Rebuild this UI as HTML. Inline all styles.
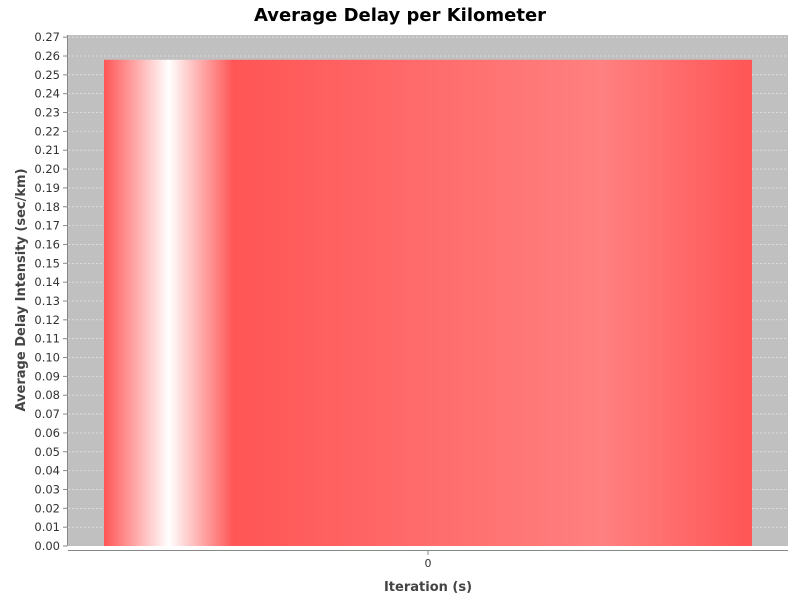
<!DOCTYPE html>
<html><head><meta charset="utf-8"><style>
body{margin:0;background:#fff;font-family:"DejaVu Sans","Liberation Sans",sans-serif;}
</style></head><body>
<svg width="800" height="600" xmlns="http://www.w3.org/2000/svg">
<defs>
<linearGradient id="g" x1="0" x2="1" y1="0" y2="0">
<stop offset="0" stop-color="#ff5555"/>
<stop offset="0.1" stop-color="#ffffff"/>
<stop offset="0.2" stop-color="#ff5555"/>
<stop offset="0.77" stop-color="#ff8080"/>
<stop offset="1" stop-color="#ff5555"/>
</linearGradient>
</defs>
<text x="400" y="21" text-anchor="middle" font-size="18" font-weight="bold" fill="#000">Average Delay per Kilometer</text>
<rect x="68" y="35" width="720" height="511" fill="#c0c0c0"/>
<g id="grid"></g>
<g id="bars"></g>
<line x1="67.5" y1="35" x2="67.5" y2="546" stroke="#888"/>
<line x1="68" y1="550.5" x2="788" y2="550.5" stroke="#888"/>
<g id="yticks" font-size="11.5" fill="#333"></g>
<g id="xticks" font-size="11" fill="#333"></g>
<text x="428" y="591" text-anchor="middle" font-size="13" font-weight="bold" fill="#444">Iteration (s)</text>
<text transform="translate(25,290) rotate(-90)" text-anchor="middle" font-size="13" font-weight="bold" fill="#444">Average Delay Intensity (sec/km)</text>
</svg>
<script>
const categories=["0"];
const values=[0.258];
const yTicks=[0,0.01,0.02,0.03,0.04,0.05,0.06,0.07,0.08,0.09,0.10,0.11,0.12,0.13,0.14,0.15,0.16,0.17,0.18,0.19,0.20,0.21,0.22,0.23,0.24,0.25,0.26,0.27];
const NS="http://www.w3.org/2000/svg";
const y0=546,pxPer=490/0.26;
function y(v){return y0-v*pxPer;}
const L=68,R=788,W=R-L;
function xBand(i){const bw=W/categories.length;return L+i*bw;}
const grid=document.getElementById('grid'),yt=document.getElementById('yticks');
yTicks.forEach(t=>{
 const yy=y(t);
 if(t>0){const l=document.createElementNS(NS,'line');
 l.setAttribute('x1',L);l.setAttribute('x2',R);l.setAttribute('y1',yy);l.setAttribute('y2',yy);
 l.setAttribute('stroke','#eeeeee');l.setAttribute('stroke-dasharray','2,2');l.setAttribute('stroke-width','0.6');
 
 
 grid.appendChild(l);}
 const tk=document.createElementNS(NS,'line');
 tk.setAttribute('x1',63);tk.setAttribute('x2',67);tk.setAttribute('y1',yy);tk.setAttribute('y2',yy);tk.setAttribute('stroke','#888');
 
 
 yt.appendChild(tk);
 const tx=document.createElementNS(NS,'text');
 tx.setAttribute('x',60);tx.setAttribute('y',yy+4);tx.setAttribute('text-anchor','end');tx.textContent=t.toFixed(2);
 
 
 yt.appendChild(tx);
});
const bars=document.getElementById('bars'),xt=document.getElementById('xticks');
categories.forEach((c,i)=>{
 const bw=W/categories.length,x0=xBand(i)+bw*0.05,w=bw*0.9;
 const r=document.createElementNS(NS,'rect');
 r.setAttribute('x',x0);r.setAttribute('width',w);r.setAttribute('y',y(values[i]));r.setAttribute('height',y0-y(values[i]));
 r.setAttribute('fill','url(#g)');
 
 
 bars.appendChild(r);
 const cx=xBand(i)+bw/2;
 const tk=document.createElementNS(NS,'line');
 tk.setAttribute('x1',cx);tk.setAttribute('x2',cx);tk.setAttribute('y1',551);tk.setAttribute('y2',555);tk.setAttribute('stroke','#888');
 
 
 xt.appendChild(tk);
 const tx=document.createElementNS(NS,'text');
 tx.setAttribute('x',cx);tx.setAttribute('y',567);tx.setAttribute('text-anchor','middle');tx.textContent=c;
 
 
 xt.appendChild(tx);
});
</script>
</body></html>
